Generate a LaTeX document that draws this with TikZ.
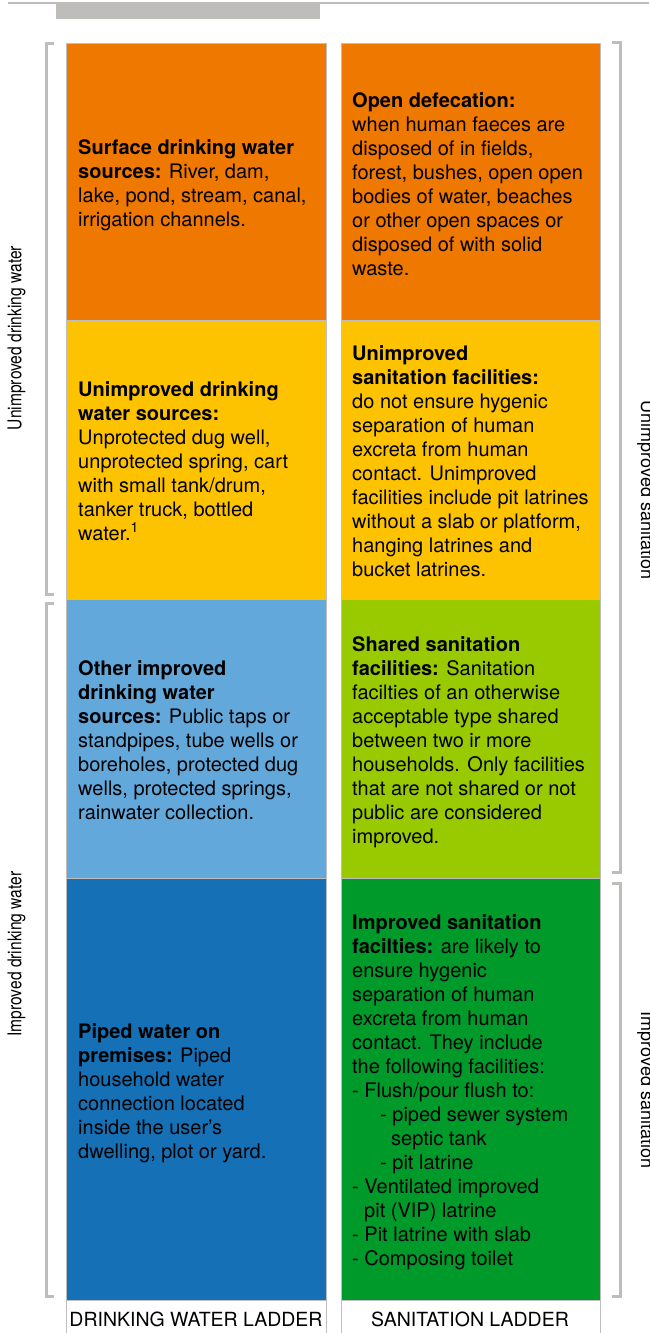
\documentclass[tikz,border=0pt]{standalone}
\usepackage{fontspec}
\setmainfont{TeX Gyre Heros}
\newfontfamily\narrowfont[FakeStretch=0.82]{TeX Gyre Heros}
\definecolor{corange}{RGB}{239,120,0}
\definecolor{cyellow}{RGB}{254,195,0}
\definecolor{clblue}{RGB}{98,168,219}
\definecolor{clime}{RGB}{153,202,0}
\definecolor{cdblue}{RGB}{21,112,181}
\definecolor{cgreen}{RGB}{0,154,43}
\definecolor{cborder}{RGB}{190,190,190}
\definecolor{cbracket}{RGB}{190,189,185}
\newcommand\descfont{\fontsize{20}{24}\selectfont}
\tikzset{
  cellbox/.style={draw=cborder, line width=1pt},
  desc/.style={anchor=west, align=left, inner sep=0pt, font=\descfont, text=black},
  brk/.style={draw=cbracket, line width=3pt},
  sidelbl/.style={inner sep=0pt, text=black},
  ladder/.style={inner sep=0pt, font=\fontsize{19.5}{22}\selectfont, text=black}
}
\begin{document}
\begin{tikzpicture}[x=1pt,y=-1pt]
\useasboundingbox (0,0) rectangle (649,1333);
% top rule and bar
\draw[cbracket, line width=1.5pt] (8,3) -- (649,3);
\fill[cbracket] (56,3) rectangle (320,19);
% boxes
\fill[corange] (66,43) rectangle (326,320);
\fill[cyellow] (66,320) rectangle (326,599);
\fill[clblue] (66,599) rectangle (326,878);
\fill[cdblue] (66,878) rectangle (326,1300);
\fill[corange] (341,43) rectangle (600,320);
\fill[cyellow] (341,320) rectangle (600,599);
\fill[clime] (341,599) rectangle (600,878);
\fill[cgreen] (341,878) rectangle (600,1300);
\foreach \a/\b in {43/320,320/599,599/878,878/1300}{
  \draw[cellbox] (66,\a) rectangle (326,\b);
  \draw[cellbox] (341,\a) rectangle (600,\b);
}
\draw[cellbox] (66,1300) -- (66,1333) (326,1300) -- (326,1333);
\draw[cellbox] (341,1300) -- (341,1333) (600,1300) -- (600,1333);
% brackets
\draw[brk] (54,43) -- (46,43) -- (46,594) -- (54,594);
\draw[brk] (54,603) -- (46,603) -- (46,1296) -- (54,1296);
\draw[brk] (612,42) -- (620,42) -- (620,872) -- (612,872);
\draw[brk] (612,883) -- (620,883) -- (620,1296) -- (612,1296);
% side labels
\node[sidelbl, rotate=90, font=\narrowfont\fontsize{19}{22}\selectfont] (lunimp) at (16.5,338) {Unimproved drinking water};
\node[sidelbl, rotate=90, font=\narrowfont\fontsize{19}{22}\selectfont] (limp) at (16.5,954) {Improved drinking water};
\node[sidelbl, rotate=-90, anchor=base, font=\fontsize{18}{22}\selectfont] (runimp) at (641,490) {Unimproved sanitation};
\node[sidelbl, rotate=-90, anchor=base, font=\fontsize{18}{22}\selectfont] (rimp) at (641,1090) {Improved sanitation};
% descriptions
\node[desc] (w1) at (78,185) {\textbf{Surface drinking water}\\
\textbf{sources:} River, dam,\\
lake, pond, stream, canal,\\
irrigation channels.};
\node[desc] (w2) at (78,461) {\textbf{Unimproved drinking}\\
\textbf{water sources:}\\
Unprotected dug well,\\
unprotected spring, cart\\
with small tank/drum,\\
tanker truck, bottled\\
water.\textsuperscript{1}};
\node[desc] (w3) at (78,740) {\textbf{Other improved}\\
\textbf{drinking water}\\
\textbf{sources:} Public taps or\\
standpipes, tube wells or\\
boreholes, protected dug\\
wells, protected springs,\\
rainwater collection.};
\node[desc] (w4) at (78,1093) {\textbf{Piped water on}\\
\textbf{premises:} Piped\\
household water\\
connection located\\
inside the user's\\
dwelling, plot or yard.};
\node[desc] (s1) at (352,184) {\textbf{Open defecation:}\\
when human faeces are\\
disposed of in fields,\\
forest, bushes, open open\\
bodies of water, beaches\\
or other open spaces or\\
disposed of with solid\\
waste.};
\node[desc] (s2) at (352,461) {\textbf{Unimproved}\\
\textbf{sanitation facilities:}\\
do not ensure hygenic\\
separation of human\\
excreta from human\\
contact. Unimproved\\
facilities include pit latrines\\
without a slab or platform,\\
hanging latrines and\\
bucket latrines.};
\node[desc] (s3) at (352,742) {\textbf{Shared sanitation}\\
\textbf{facilities:} Sanitation\\
facilties of an otherwise\\
acceptable type shared\\
between two ir more\\
households. Only facilities\\
that are not shared or not\\
public are considered\\
improved.};
\node[desc] (s4) at (352,1092) {\textbf{Improved sanitation}\\
\textbf{facilties:} are likely to\\
ensure hygenic\\
separation of human\\
excreta from human\\
contact. They include\\
the following facilities:\\
- Flush/pour flush to:\\
\hspace*{28pt}- piped sewer system\\
\hspace*{39pt}septic tank\\
\hspace*{28pt}- pit latrine\\
- Ventilated improved\\
\hspace*{12pt}pit (VIP) latrine\\
- Pit latrine with slab\\
- Composing toilet};
% ladder labels
\node[ladder] (lw) at (196,1319) {DRINKING WATER LADDER};
\node[ladder] (ls) at (470,1319) {SANITATION LADDER};
\end{tikzpicture}
\end{document}
